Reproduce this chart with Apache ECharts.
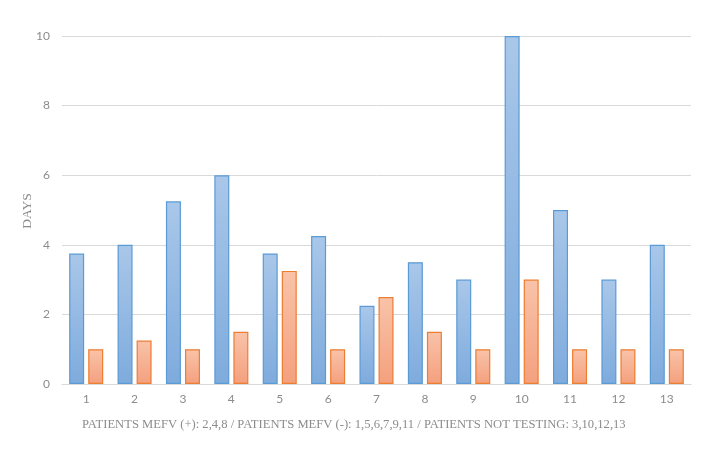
<!DOCTYPE html>
<html><head><meta charset="utf-8">
<script src="https://cdn.jsdelivr.net/npm/echarts@6/dist/echarts.min.js"></script>
<style>html,body{margin:0;padding:0;background:#fff}#c{width:712px;height:457px}</style>
</head><body><div id="c"></div>
<script>
const categories = ['1','2','3','4','5','6','7','8','9','10','11','12','13'];
const seriesA = [3.75, 4, 5.25, 6, 3.75, 4.25, 2.25, 3.5, 3, 10, 5, 3, 4];
const seriesB = [1, 1.25, 1, 1.5, 3.25, 1, 2.5, 1.5, 1, 3, 1, 1, 1];
const yTicks = [0, 2, 4, 6, 8, 10];
const xTitle = 'PATIENTS MEFV (+): 2,4,8 / PATIENTS MEFV (-): 1,5,6,7,9,11 / PATIENTS NOT TESTING: 3,10,12,13';
const yTitle = 'DAYS';

const chart = echarts.init(document.getElementById('c'));
const grad = (t, b) => new echarts.graphic.LinearGradient(0, 0, 0, 1, [{offset: 0, color: t}, {offset: 1, color: b}]);
chart.setOption({
  animation: false,
  title: {
    text: xTitle, left: 77, top: 413,
    textStyle: {fontFamily: 'Liberation Serif', fontSize: 12.6, fontWeight: 'normal', color: '#8c8c8c'}
  },
  graphic: [{
    type: 'text', x: 27, y: 211, rotation: Math.PI / 2,
    style: {text: yTitle, align: 'center', verticalAlign: 'middle',
            font: '13.5px "Liberation Serif"', fill: '#8c8c8c'}
  }],
  grid: {left: 62, right: 21, top: 36, bottom: 73},
  xAxis: {
    type: 'category', data: categories,
    axisLine: {lineStyle: {color: '#d9d9d9', width: 1}},
    axisTick: {show: false},
    axisLabel: {color: '#8c8c8c', fontFamily: 'Lato', fontSize: 12, margin: 9}
  },
  yAxis: {
    type: 'value', min: yTicks[0], max: yTicks[yTicks.length - 1], interval: 2,
    axisLine: {show: false}, axisTick: {show: false},
    axisLabel: {color: '#8c8c8c', fontFamily: 'Lato', fontSize: 12, margin: 12},
    splitLine: {lineStyle: {color: '#d9d9d9', width: 1}}
  },
  series: [
    {type: 'bar', data: seriesA, barWidth: 15, barGap: '27%',
     itemStyle: {color: grad('#a9c7e9', '#7eabdd'), borderColor: '#5b9bd5', borderWidth: 1.2}},
    {type: 'bar', data: seriesB, barWidth: 15, barGap: '27%',
     itemStyle: {color: grad('#f9c3a9', '#f4a07e'), borderColor: '#ed7d31', borderWidth: 1.2}}
  ]
});
</script></body></html>
